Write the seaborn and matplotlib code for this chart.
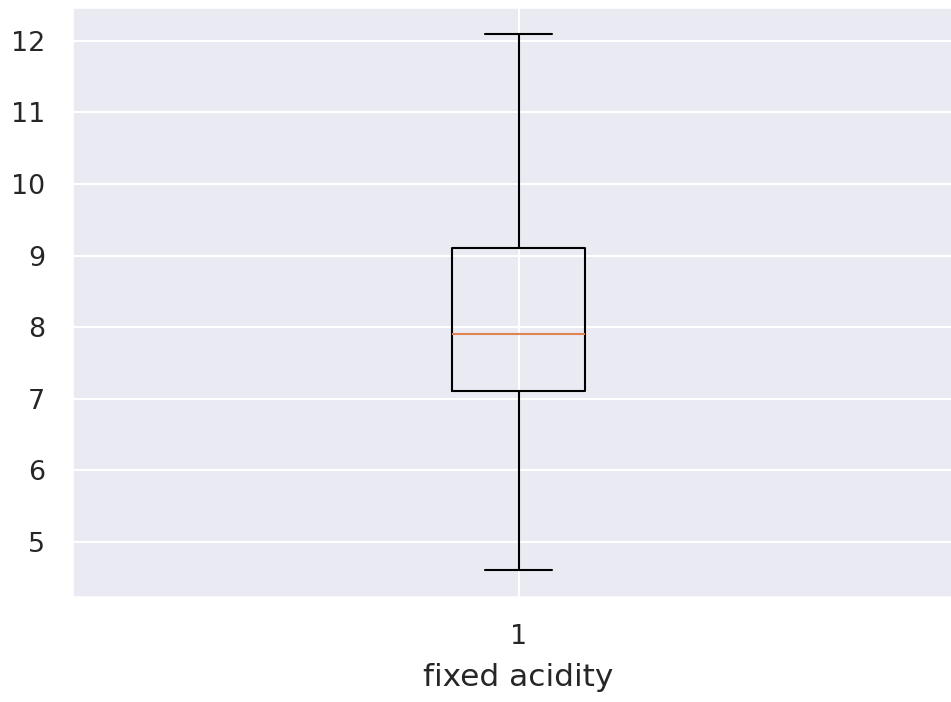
import matplotlib
matplotlib.use("Agg")
import matplotlib.pyplot as plt
import seaborn as sns

# Summary statistics of the fixed acidity column
labels = ["1"]
whisker_low = [4.6]
q1 = [7.1]
median = [7.9]
q3 = [9.1]
whisker_high = [12.1]
xlabel = "fixed acidity"

sns.set_theme(style="darkgrid")

stats = [
    {"label": lab, "whislo": lo, "q1": a, "med": m, "q3": b, "whishi": hi, "fliers": []}
    for lab, lo, a, m, b, hi in zip(labels, whisker_low, q1, median, q3, whisker_high)
]

fig = plt.figure(figsize=(951 / 150, 702 / 150), dpi=150)
ax = fig.add_axes([72 / 951, 105 / 702, 893 / 951, 590 / 702])
ax.bxp(stats, showfliers=False)
ax.tick_params(labelsize=12.9, pad=7)
ax.set_xlabel(xlabel, fontsize=15, labelpad=6)
fig.savefig("out.png", dpi=150)
